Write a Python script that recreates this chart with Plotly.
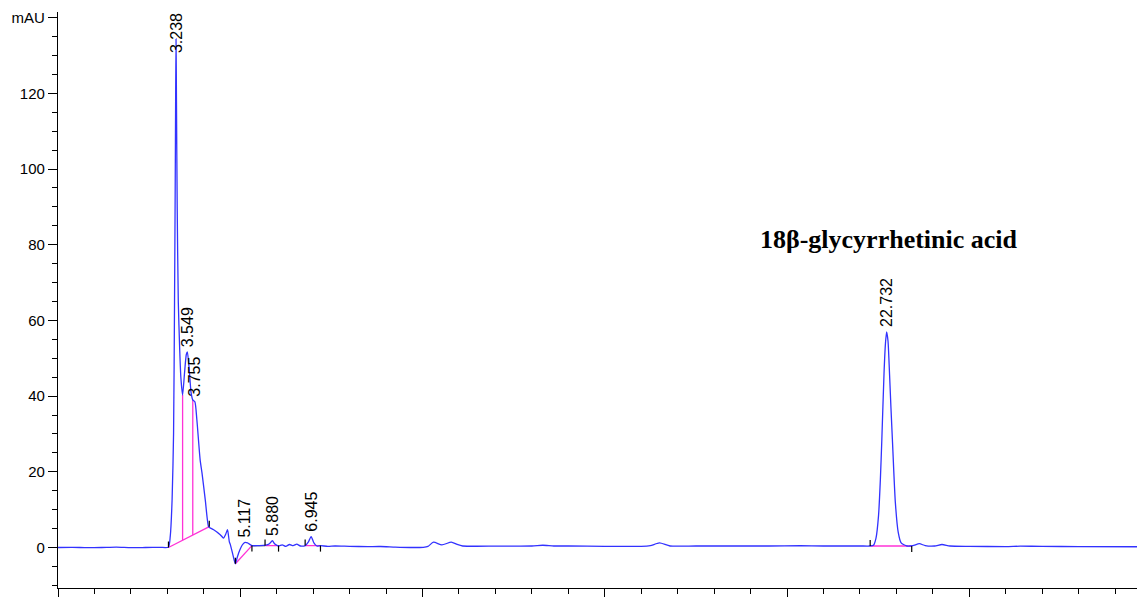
import numpy as np
import plotly.graph_objects as go

# ---- data -----------------------------------------------------------------
# chromatogram signal: retention time (min) and absorbance (mAU)
time_min = [0.0, 0.4, 0.8, 1.2, 1.6, 2.0, 2.4, 2.8, 3.03, 3.08, 3.13, 3.17, 3.197,
            3.215, 3.228, 3.238, 3.25, 3.27, 3.30, 3.34, 3.37, 3.418, 3.47, 3.52,
            3.549, 3.60, 3.65, 3.697, 3.755, 3.81, 3.90, 3.95, 4.04, 4.13, 4.17,
            4.27, 4.45, 4.54, 4.60, 4.65, 4.70, 4.73, 4.80, 4.866, 4.92, 4.99,
            5.05, 5.117, 5.20, 5.32, 5.50, 5.70, 5.80, 5.88, 5.95, 6.05, 6.15,
            6.25, 6.35, 6.45, 6.55, 6.65, 6.78, 6.87, 6.945, 7.02, 7.10, 7.20,
            7.40, 7.60, 8.0, 8.5, 8.85, 9.25, 9.66, 10.02, 10.15, 10.30, 10.53,
            10.79, 10.95, 11.10, 12.0, 13.0, 13.3, 13.6, 14.0, 15.0, 16.0, 16.25,
            16.5, 16.79, 17.5, 18.5, 19.5, 20.36, 21.0, 22.0, 22.28, 22.37, 22.44,
            22.51, 22.56, 22.60, 22.66, 22.70, 22.732, 22.77, 22.80, 22.85, 22.89,
            22.97, 23.05, 23.13, 23.29, 23.45, 23.63, 23.79, 24.05, 24.25, 24.47,
            25.0, 26.0, 26.4, 27.0, 28.0, 29.6]
signal_mau = [0.0, 0.05, -0.05, 0.0, 0.1, -0.05, 0.0, 0.05, 0.1, 3.0, 12.6, 30.0, 65.0,
              95.0, 120.0, 134.4, 118.0, 90.0, 65.0, 52.0, 45.0, 40.3, 46.0, 51.0,
              51.7, 47.0, 41.0, 39.0, 38.5, 33.7, 23.1, 19.7, 12.6, 5.5, 5.2,
              4.7, 3.4, 2.5, 3.5, 4.7, 1.5, 0.7, -2.0, -4.3, -2.5, -0.6,
              0.6, 1.3, 1.2, 0.5, 0.5, 0.6, 1.0, 1.8, 0.9, 0.4, 0.7,
              0.3, 0.8, 0.5, 0.9, 0.4, 0.5, 1.5, 2.9, 1.2, 0.4, 0.5,
              0.3, 0.4, 0.3, 0.25, 0.26, 0.1, 0.0, 0.05, 0.3, 1.4, 0.7,
              1.4, 0.8, 0.4, 0.35, 0.4, 0.6, 0.4, 0.4, 0.3, 0.3, 0.5,
              1.2, 0.4, 0.4, 0.4, 0.4, 0.5, 0.4, 0.4, 0.4, 0.6, 2.5,
              8.5, 18.0, 28.5, 46.0, 54.0, 57.0, 54.5, 48.5, 37.0, 28.5,
              12.0, 4.0, 1.2, 0.4, 0.5, 1.0, 0.5, 0.4, 0.8, 0.4,
              0.3, 0.25, 0.35, 0.3, 0.25, 0.2]

# labelled peaks
peak_rt = [3.238, 3.549, 3.755, 5.117, 5.880, 6.945, 22.732]
peak_height = [134.4, 51.7, 38.5, 1.3, 1.8, 2.9, 57.0]
peak_labels = ["3.238", "3.549", "3.755", "5.117", "5.880", "6.945", "22.732"]

# integration baselines (start time, start value, end time, end value)
base_t0 = [3.03, 4.866, 5.68, 6.78, 22.28]
base_v0 = [0.0, -4.3, 0.5, 0.5, 0.4]
base_t1 = [4.15, 5.32, 6.05, 7.20, 23.42]
base_v1 = [5.5, 0.5, 0.5, 0.5, 0.4]
# plain (black) baseline piece
plain_t = [5.32, 5.68]
plain_v = [0.5, 0.5]
# drop lines separating fused peaks
drop_t = [3.418, 3.697]
# peak start / end markers (time, value, direction +1 up / -1 down)
mark_t = [3.03, 4.15, 4.866, 5.32, 5.68, 6.05, 6.78, 7.20, 22.28, 23.42]
mark_v = [0.0, 5.5, -4.3, 0.5, 0.5, 0.5, 0.5, 0.5, 0.4, 0.4]
mark_dir = [1, 1, 1, -1, 1, -1, 1, -1, 1, -1]

compound_name = "18β-glycyrrhetinic acid"
compound_pos = (22.81, 81.5)

y_tick_vals = [0, 20, 40, 60, 80, 100, 120, 140]
y_tick_text = ["0", "20", "40", "60", "80", "100", "120", "mAU"]

# ---- figure ------------------------------------------------------------------
X_RANGE = [0, 29.6]
Y_RANGE = [-10.7, 141.5]
BLUE = "rgb(50,50,255)"
MAGENTA = "rgb(255,50,215)"
LABEL_FONT = dict(family="Liberation Sans, Arial", size=16, color="black")

fig = go.Figure()

# integration baselines
bx, by = [], []
for t0, v0, t1, v1 in zip(base_t0, base_v0, base_t1, base_v1):
    bx += [t0, t1, None]
    by += [v0, v1, None]
# drop lines
for t in drop_t:
    seg = 0
    b = np.interp(t, [base_t0[seg], base_t1[seg]], [base_v0[seg], base_v1[seg]])
    top = np.interp(t, time_min, signal_mau)
    bx += [t, t, None]
    by += [float(b), float(top), None]
fig.add_trace(go.Scatter(x=bx, y=by, mode="lines", line=dict(color=MAGENTA, width=1.3),
                         hoverinfo="skip", showlegend=False))

fig.add_trace(go.Scatter(x=plain_t, y=plain_v, mode="lines",
                         line=dict(color="black", width=1.2), hoverinfo="skip", showlegend=False))

# signal
fig.add_trace(go.Scatter(x=time_min, y=signal_mau, mode="lines", line_shape="spline",
                         line=dict(color=BLUE, width=1.3, smoothing=0.6),
                         hoverinfo="skip", showlegend=False))

# start/end markers
mpx = 6  # marker length in pixels
mau_per_px = (Y_RANGE[1] - Y_RANGE[0]) / 576.0
mx, my = [], []
for t, v, d in zip(mark_t, mark_v, mark_dir):
    mx += [t, t, None]
    my += [v, v + d * mpx * mau_per_px, None]
fig.add_trace(go.Scatter(x=mx, y=my, mode="lines", line=dict(color="black", width=1.2),
                         hoverinfo="skip", showlegend=False))

# peak labels (rotated)
for t, h, lab in zip(peak_rt, peak_height, peak_labels):
    top_needed = h + (5 + 45) * mau_per_px
    if top_needed > Y_RANGE[1]:
        fig.add_annotation(x=t, y=1, xref="x", yref="paper", text=lab, textangle=-90,
                           showarrow=False, xanchor="center", yanchor="top",
                           borderpad=0, font=LABEL_FONT)
    else:
        fig.add_annotation(x=t, y=h, xref="x", yref="y", text=lab, textangle=-90,
                           showarrow=False, xanchor="center", yanchor="bottom", yshift=4,
                           borderpad=0, font=LABEL_FONT)

fig.add_annotation(x=compound_pos[0], y=compound_pos[1], xref="x", yref="y",
                   text="<b>" + compound_name + "</b>", showarrow=False,
                   xanchor="center", yanchor="middle",
                   font=dict(family="Liberation Serif, Times New Roman", size=26, color="black"))

fig.update_layout(
    width=1137, height=599,
    margin=dict(l=58, r=0, t=12, b=11),
    paper_bgcolor="white", plot_bgcolor="white",
    showlegend=False,
    font=dict(family="Liberation Sans, Arial", size=15, color="black"),
)
fig.update_xaxes(range=X_RANGE, showgrid=False, zeroline=False, showline=True,
                 linecolor="black", linewidth=1.2, ticks="outside", ticklen=8,
                 tickcolor="black", tickwidth=1.2, tick0=0, dtick=5,
                 showticklabels=False,
                 minor=dict(ticks="outside", ticklen=5, tickcolor="black", tickwidth=1,
                            tick0=0, dtick=1, showgrid=False))
fig.update_yaxes(range=Y_RANGE, showgrid=False, zeroline=False, showline=True,
                 linecolor="black", linewidth=1.2, ticks="outside", ticklen=9,
                 tickcolor="black", tickwidth=1.2, tickmode="array",
                 tickvals=y_tick_vals, ticktext=y_tick_text,
                 tickfont=dict(family="Liberation Sans, Arial", size=15, color="black"),
                 minor=dict(ticks="outside", ticklen=5, tickcolor="black", tickwidth=1,
                            tickmode="linear", tick0=0, dtick=5, showgrid=False))

fig.write_html("out.html")
